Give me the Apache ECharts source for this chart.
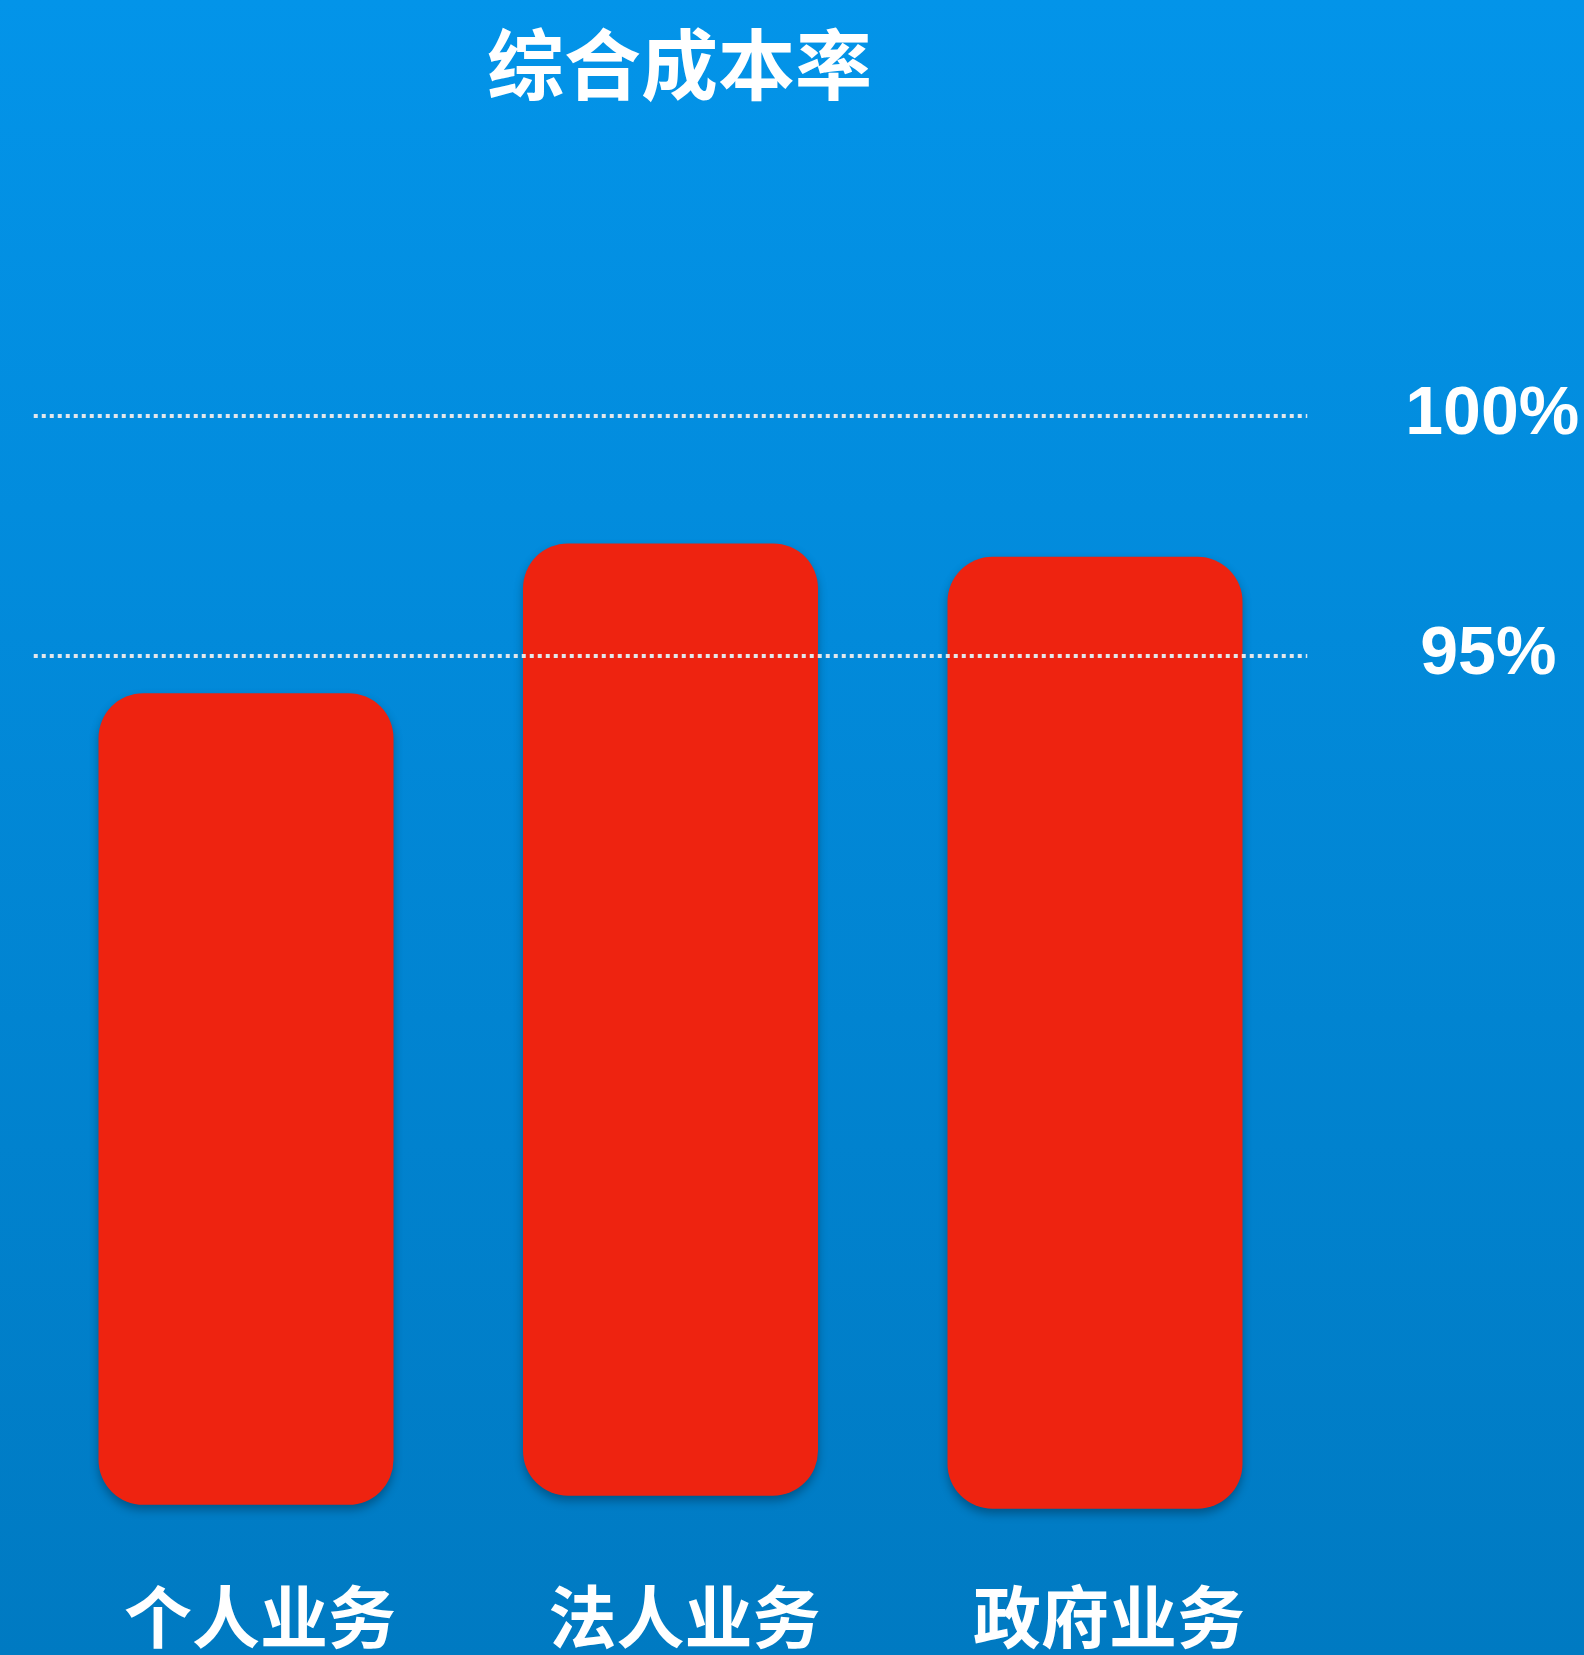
<!DOCTYPE html>
<html>
<head>
<meta charset="utf-8">
<script src="https://cdn.jsdelivr.net/npm/echarts@6/dist/echarts.min.js"></script>
<style>
  html, body { margin: 0; padding: 0; }
  #chart { width: 1584px; height: 1655px; }
</style>
</head>
<body>
<div id="chart"></div>
<script>
// 数据
var categories = ['个人业务', '法人业务', '政府业务'];
var barTop = [94.22, 97.34, 97.06];
var barBottom = [77.31, 77.50, 77.23];
var refValues = [100, 95];

var barSpan = barTop.map(function (v, i) { return +(v - barBottom[i]).toFixed(2); });

var chart = echarts.init(document.getElementById('chart'));
chart.setOption({
  backgroundColor: new echarts.graphic.LinearGradient(0, 0, 0, 1, [
    { offset: 0, color: '#0394E9' },
    { offset: 1, color: '#007AC2' }
  ]),
  title: {
    text: '综合成本率',
    left: 482,
    top: 21,
    textStyle: {
      color: '#fff',
      fontSize: 77,
      fontWeight: 'bold',
      fontFamily: 'Noto Sans CJK SC'
    }
  },
  grid: {
    left: 33.75,
    right: 276.75,
    top: 223.7,
    bottom: 87.3,
    outerBoundsMode: 'none'
  },
  xAxis: {
    type: 'category',
    data: categories,
    axisLine: { show: false },
    axisTick: { show: false },
    axisLabel: {
      margin: 15,
      padding: [0, 0, 0, 28],
      color: '#fff',
      fontSize: 68,
      fontWeight: 'bold',
      fontFamily: 'Noto Sans CJK SC'
    }
  },
  yAxis: {
    type: 'value',
    min: 76,
    max: 104,
    show: false
  },
  series: [
    {
      name: 'base',
      type: 'bar',
      stack: 'a',
      data: barBottom,
      barWidth: 295,
      itemStyle: { color: 'rgba(0,0,0,0)' },
      silent: true
    },
    {
      name: '综合成本率',
      type: 'bar',
      stack: 'a',
      data: barSpan,
      barWidth: 295,
      itemStyle: {
        color: '#EE2310',
        borderRadius: 45,
        shadowBlur: 10,
        shadowOffsetY: 5,
        shadowColor: 'rgba(0,0,0,0.3)'
      },
      markLine: {
        symbol: 'none',
        silent: true,
        lineStyle: {
          color: '#E2E6EA',
          type: [4, 4],
          width: 4
        },
        label: {
          position: 'end',
          color: '#fff',
          fontSize: 68,
          fontWeight: 'bold',
          fontFamily: 'Liberation Sans',
          formatter: function (p) { return p.value + '%'; }
        },
        data: refValues.map(function (v, i) {
          return { yAxis: v, label: { distance: i === 0 ? 98 : 113 } };
        })
      }
    }
  ]
});
</script>
</body>
</html>
